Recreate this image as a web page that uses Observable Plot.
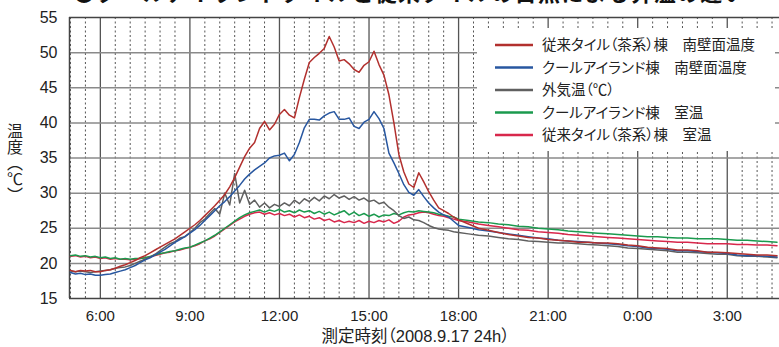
<!DOCTYPE html>
<html><head><meta charset="utf-8">
<script src="https://cdn.jsdelivr.net/npm/d3@7"></script>
<script src="https://cdn.jsdelivr.net/npm/@observablehq/plot@0.6"></script>
<style>
body{margin:0;background:#fff;overflow:hidden;}
#wrap{position:relative;width:779px;height:347px;overflow:hidden;background:#fff;}
#title{position:absolute;left:73px;top:-20px;font-weight:bold;font-size:22px;line-height:22px;letter-spacing:1.3px;font-family:"Noto Sans CJK JP";white-space:nowrap;color:#111;}
.palt{font-feature-settings:"palt";}
</style></head>
<body><div id="wrap"><div id="chart"></div><div id="title"></div></div>
<script>
const titleText = "●クールアイランドタイルと従来タイルの日照による昇温の違い";
const yTitle = "温度（℃）";
const xTitle = "測定時刻（2008.9.17 24h）";
const yTicks = [15,20,25,30,35,40,45,50,55];
const xTickLabels = ["6:00","9:00","12:00","15:00","18:00","21:00","0:00","3:00"];
const legendLabels = ["従来タイル（茶系）棟　南壁面温度","クールアイランド棟　南壁面温度","外気温（℃）","クールアイランド棟　室温","従来タイル（茶系）棟　室温"];

const times = [
"5:00","5:10","5:20","5:30","5:40","5:50",
"6:00","6:10","6:20","6:30","6:40","6:50",
"7:00","7:10","7:20","7:30","7:40","7:50",
"8:00","8:10","8:20","8:30","8:40","8:50",
"9:00","9:10","9:20","9:30","9:40","9:50",
"10:00","10:10","10:20","10:30","10:40","10:50",
"11:00","11:10","11:20","11:30","11:40","11:50",
"12:00","12:10","12:20","12:30","12:40","12:50",
"13:00","13:10","13:20","13:30","13:40","13:50",
"14:00","14:10","14:20","14:30","14:40","14:50",
"15:00","15:10","15:20","15:30","15:40","15:50",
"16:00","16:10","16:20","16:30","16:40","16:50",
"17:00","17:10","17:20","17:30","17:40","17:50",
"18:00",
"18:20","18:40","19:00","19:20","19:40","20:00",
"20:20","20:40","21:00","21:20","21:40","22:00",
"22:20","22:40","23:00","23:20","23:40","0:00",
"0:20","0:40","1:00","1:20","1:40","2:00",
"2:20","2:40","3:00","3:20","3:40","4:00",
"4:20","4:40"];

// 従来タイル（茶系）棟 南壁面温度
const wallConv = [
19.0,18.8,19.0,18.9,19.0,18.8,
18.8,19.0,19.1,19.3,19.6,19.8,
20.1,20.4,20.8,21.1,21.5,21.9,
22.3,22.7,23.1,23.5,24.0,24.5,
25.0,25.5,26.1,26.8,27.5,28.2,
29.0,29.8,30.9,32.2,33.7,35.2,
36.4,37.2,39.2,40.2,39.0,39.8,
41.2,41.9,41.1,40.7,43.6,46.2,
48.6,49.3,49.9,50.6,52.3,50.8,
48.8,49.0,48.4,47.6,47.2,48.2,
48.7,50.2,48.3,46.8,44.0,40.0,
35.5,33.0,31.3,30.8,32.9,31.6,
30.2,29.0,27.9,27.5,27.1,26.6,
26.2,
25.6,25.0,24.7,24.4,24.1,23.9,
23.7,23.6,23.4,23.3,23.2,23.0,
23.0,22.9,22.9,22.8,22.6,22.5,
22.3,22.2,22.1,21.9,21.9,21.8,
21.6,21.6,21.5,21.4,21.3,21.2,
21.2,21.1];

// クールアイランド棟 南壁面温度
const wallCool = [
18.7,18.5,18.6,18.4,18.5,18.3,
18.3,18.4,18.5,18.7,18.9,19.1,
19.4,19.7,20.1,20.5,20.8,21.2,
21.6,22.0,22.5,23.0,23.4,23.8,
24.3,24.8,25.4,26.1,26.8,27.5,
28.2,28.8,29.5,30.3,31.1,32.0,
32.7,33.3,33.8,34.3,35.0,35.3,
35.4,35.7,34.6,35.5,37.2,39.3,
40.5,40.5,40.4,41.0,41.4,41.6,
40.5,40.5,40.7,39.5,39.2,40.1,
40.5,41.6,40.6,39.2,35.7,34.3,
32.8,31.2,30.1,29.7,30.5,29.5,
28.6,27.9,27.3,26.9,26.6,26.0,
25.4,
25.1,24.8,24.6,24.4,24.2,24.0,
23.8,23.6,23.5,23.3,23.2,23.1,
23.0,22.9,22.8,22.7,22.5,22.4,
22.2,22.1,22.0,21.8,21.8,21.7,
21.6,21.5,21.4,21.2,21.1,21.1,
21.0,20.9];

// 外気温
const outdoor = [
18.9,18.8,18.9,18.8,18.7,18.8,
18.9,19.0,19.1,19.3,19.4,19.5,
19.7,20.0,20.3,20.6,20.9,21.3,
21.8,22.3,22.8,23.1,23.6,23.8,
24.4,25.0,25.8,26.3,27.1,27.8,
27.0,30.0,28.3,32.8,28.6,30.4,
28.4,29.0,28.0,28.6,27.9,28.4,
28.1,28.6,28.2,29.0,28.5,29.2,
28.8,29.4,28.9,29.6,29.2,29.8,
29.3,29.6,29.1,29.5,29.0,29.3,
28.8,29.0,28.5,28.7,28.0,27.5,
26.8,26.4,26.6,26.2,26.1,25.8,
25.4,25.1,24.9,24.8,24.7,24.5,
24.4,
24.2,24.0,23.9,23.7,23.5,23.4,
23.2,23.1,23.0,22.9,22.9,22.8,
22.7,22.6,22.5,22.4,22.2,22.1,
22.0,21.9,21.8,21.6,21.6,21.5,
21.4,21.3,21.3,21.1,21.0,21.0,
20.9,20.8];

// クールアイランド棟 室温
const roomCool = [
21.1,21.2,21.0,21.1,20.9,21.0,
20.8,20.9,20.7,20.8,20.6,20.7,
20.6,20.7,20.7,20.8,21.0,21.2,
21.4,21.5,21.7,21.8,22.0,22.2,
22.3,22.6,22.9,23.2,23.6,24.0,
24.5,25.0,25.5,26.0,26.5,26.9,
27.2,27.4,27.6,27.3,27.6,27.4,
27.7,27.3,27.5,27.2,27.6,27.3,
27.5,27.1,27.4,27.0,27.3,26.9,
27.2,27.5,26.9,27.3,26.8,27.1,
26.7,27.0,26.6,26.9,26.8,27.1,
26.9,27.2,27.4,27.3,27.5,27.4,
27.3,27.2,27.0,26.9,26.7,26.6,
26.3,
26.1,25.9,25.8,25.6,25.5,25.3,
25.2,25.0,24.9,24.8,24.6,24.5,
24.4,24.3,24.2,24.1,24.0,23.9,
23.8,23.8,23.7,23.6,23.6,23.5,
23.5,23.5,23.4,23.3,23.3,23.2,
23.1,23.0];

// 従来タイル（茶系）棟 室温
const roomConv = [
21.0,21.1,20.9,21.0,20.8,20.9,
20.7,20.8,20.6,20.7,20.6,20.6,
20.5,20.6,20.7,20.8,20.9,21.1,
21.3,21.5,21.6,21.8,21.9,22.1,
22.3,22.5,22.8,23.2,23.5,23.9,
24.4,24.9,25.4,25.9,26.3,26.7,
27.0,27.2,27.3,27.0,27.2,26.9,
27.1,26.8,27.0,26.6,26.9,26.5,
26.7,26.3,26.5,26.1,26.3,25.9,
26.1,25.8,26.0,25.8,26.1,25.7,
26.0,25.8,26.1,25.9,26.2,25.7,
26.0,26.6,26.9,27.0,27.2,27.3,
27.2,27.0,26.8,26.7,26.5,26.3,
26.1,
25.9,25.6,25.4,25.2,25.0,24.8,
24.7,24.5,24.4,24.3,24.1,24.0,
23.9,23.8,23.7,23.6,23.5,23.4,
23.3,23.2,23.1,23.0,23.0,22.9,
22.8,22.8,22.8,22.7,22.7,22.6,
22.6,22.5];

const seriesValues = [wallConv, wallCool, outdoor, roomCool, roomConv];
const seriesColors = ["#b2302e", "#2857a0", "#606060", "#1b9a4e", "#d8284c"];
const drawOrder = [4, 3, 2, 1, 0];

function parseTimes(list){
  let day = 17, prev = -1;
  return list.map(s => {
    const [h, m] = s.split(":").map(Number);
    if (h < prev) day++;
    prev = h;
    return new Date(Date.UTC(2008, 8, day, h, m));
  });
}
const dates = parseTimes(times);
const xTickDates = parseTimes(xTickLabels);
const xDomain = [new Date(Date.UTC(2008,8,17,4,58)), new Date(Date.UTC(2008,8,18,4,45))];
const minorTicks = d3.utcMinute.every(30).range(xDomain[0], xDomain[1])
  .filter(d => !(d.getUTCMinutes() === 0 && d.getUTCHours() % 3 === 0));

const rows = [];
seriesValues.forEach((vals, k) => vals.forEach((v, i) => rows.push({t: dates[i], v, k})));

const numFont = "'Liberation Sans', Arial, sans-serif";

const chart = Plot.plot({
  width: 779, height: 347,
  marginLeft: 69, marginRight: 0, marginTop: 17, marginBottom: 49,
  style: {fontFamily: numFont, color: "#222", background: "white"},
  x: {type: "utc", domain: xDomain},
  y: {domain: [15, 55]},
  marks: [
    Plot.ruleX(minorTicks, {stroke: "#555", strokeWidth: 1, strokeDasharray: "2,2.5"}),
    Plot.ruleX(xTickDates, {stroke: "#555", strokeWidth: 1.3}),
    Plot.ruleY(yTicks.slice(1, -1), {stroke: "#8a8a8a", strokeWidth: 1.5}),
    Plot.ruleY([yTicks[0], yTicks[yTicks.length-1]], {stroke: "#444", strokeWidth: 1.5}),
    Plot.ruleX([xDomain[0]], {stroke: "#444", strokeWidth: 1.5}),
    ...drawOrder.map(k => Plot.line(rows.filter(r => r.k === k), {x: "t", y: "v", stroke: seriesColors[k], strokeWidth: 1.5})),
    Plot.axisY(yTicks, {tickSize: 0, tickPadding: 12, fontSize: 16, label: null}),
    Plot.axisX(xTickDates, {tickSize: 0, tickPadding: 12, fontSize: 15, label: null,
      tickFormat: d => xTickLabels[xTickDates.findIndex(e => +e === +d)]}),
    Plot.text([xTitle], {frameAnchor: "bottom", dy: 38, dx: -9, fontSize: 16.5, lineAnchor: "middle",
      fontFamily: numFont + ", 'Noto Sans CJK JP'", fill: "#222", className: "palt"})
  ]
});
document.getElementById("chart").appendChild(chart);
document.getElementById("title").textContent = titleText;

const svg = d3.select(chart);
// vertical y-axis title
svg.append("text").attr("x", 15).attr("y", 163).attr("text-anchor", "middle")
  .style("writing-mode", "vertical-rl")
  .attr("font-family", "'Noto Sans CJK JP'").attr("font-size", 16).attr("fill", "#222")
  .text(yTitle);

// legend
const lg = svg.append("g").attr("text-anchor", "start");
lg.append("rect").attr("x", 477).attr("y", 28).attr("width", 298).attr("height", 123).attr("fill", "white");
legendLabels.forEach((lab, i) => {
  const y = 45 + i * 22.5;
  lg.append("line").attr("x1", 495).attr("x2", 533).attr("y1", y).attr("y2", y)
    .attr("stroke", seriesColors[i]).attr("stroke-width", 2.6);
  lg.append("text").attr("x", 542).attr("y", y).attr("dy", "0.36em").attr("text-anchor", "start")
    .style("font-feature-settings", "'palt'")
    .attr("font-family", "'Noto Sans CJK JP'").attr("font-size", 14.5).attr("fill", "#222").text(lab);
});
</script>
</body></html>
